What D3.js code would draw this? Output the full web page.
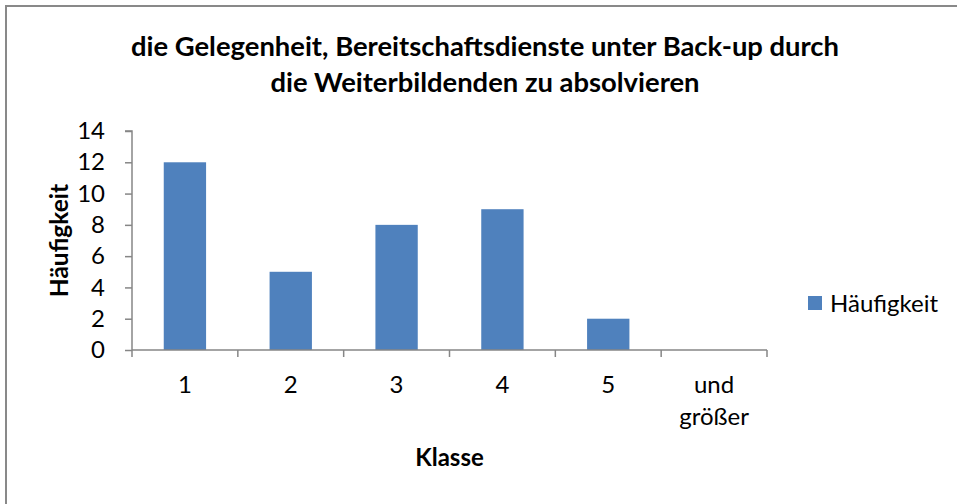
<!DOCTYPE html>
<html>
<head>
<meta charset="utf-8">
<script src="https://cdn.jsdelivr.net/npm/d3@7"></script>
<style>
  html, body { margin:0; padding:0; background:#fff; }
  svg { display:block; font-family: Lato, "Open Sans", sans-serif; }
</style>
</head>
<body>
<svg id="chart" width="957" height="504"></svg>
<script>
/* ---------- data ---------- */
const titleLines = ["die Gelegenheit, Bereitschaftsdienste unter Back-up durch", "die Weiterbildenden zu absolvieren"];
const classes    = ["1", "2", "3", "4", "5", "und größer"];
const counts     = [12, 5, 8, 9, 2, 0];
const yTicks     = [0, 2, 4, 6, 8, 10, 12, 14];
const seriesName = "Häufigkeit";
const xTitle     = "Klasse";
const yTitle     = "Häufigkeit";

/* ---------- layout ---------- */
const W = 957, H = 504;
const P = { l:132, r:767, t:131, b:350 };
const BAR = "#4f81bd", AXIS = "#868686";

const svg = d3.select("#chart");

// outer frame (only top/left edges visible in the crop)
svg.append("rect")
  .attr("x",6).attr("y",6).attr("width",W+10).attr("height",H+10)
  .attr("fill","#fff").attr("stroke","#898989").attr("stroke-width",2);

// title
const title = svg.append("text")
  .attr("x",485).attr("y",56)
  .attr("text-anchor","middle").attr("font-weight",700).attr("font-size",27.4).attr("fill","#000");
titleLines.forEach((t,i)=>{
  title.append("tspan").attr("x",485).attr("dy", i ? 36 : 0).text(t);
});

const x = d3.scaleBand().domain(classes).range([P.l, P.r]).paddingInner(0.6).paddingOuter(0.3);
const y = d3.scaleLinear().domain([0,14]).range([P.b, P.t]);

// bars
svg.append("g").selectAll("rect").data(counts).join("rect")
  .attr("x",(d,i)=>x(classes[i]))
  .attr("y",d=>y(d))
  .attr("width",x.bandwidth())
  .attr("height",d=>P.b-y(d))
  .attr("fill",BAR);

// y axis
const gy = svg.append("g").attr("transform",`translate(${P.l},0)`)
  .call(d3.axisLeft(y).tickValues(yTicks).tickSize(7).tickPadding(20).tickFormat(d3.format("d")));
gy.select(".domain").attr("stroke",AXIS).attr("stroke-width",1.5).attr("d",`M-7,${P.t}H0V${P.b}`);
gy.selectAll(".tick line").attr("stroke",AXIS).attr("stroke-width",1.5);
gy.selectAll(".tick text").attr("font-size",24).attr("font-family","Lato, sans-serif").attr("fill","#000");

// x axis (ticks at category boundaries)
const gx = svg.append("g").attr("transform",`translate(0,${P.b})`);
gx.append("line").attr("x1",P.l).attr("x2",P.r).attr("stroke",AXIS).attr("stroke-width",1.5);
const step = (P.r-P.l)/classes.length;
gx.selectAll("line.tk").data(d3.range(classes.length+1)).join("line").attr("class","tk")
  .attr("x1",i=>P.l+i*step).attr("x2",i=>P.l+i*step)
  .attr("y1",0).attr("y2",7).attr("stroke",AXIS).attr("stroke-width",1.5);
gx.selectAll("text.lbl").data(classes).join("text").attr("class","lbl")
  .attr("text-anchor","middle").attr("font-size",24).attr("fill","#000")
  .each(function(d){
    const cx = x(d) + x.bandwidth()/2;
    const words = d.split(" ");
    d3.select(this).selectAll("tspan").data(words).join("tspan")
      .attr("x",cx).attr("y",(w,j)=>43+j*32).text(w=>w);
  });

// axis titles
svg.append("text").attr("x",(P.l+P.r)/2).attr("y",466)
  .attr("text-anchor","middle").attr("font-weight",700).attr("font-size",24).text(xTitle);
svg.append("text").attr("transform",`translate(68,${(P.t+P.b)/2}) rotate(-90)`)
  .attr("text-anchor","middle").attr("font-weight",700).attr("font-size",24.5).text(yTitle);

// legend
const lg = svg.append("g").attr("transform","translate(808,296)");
lg.append("rect").attr("width",14).attr("height",14).attr("fill",BAR);
lg.append("text").attr("x",22).attr("y",15.5).attr("font-size",24).attr("fill","#000").text(seriesName);
</script>
</body>
</html>
